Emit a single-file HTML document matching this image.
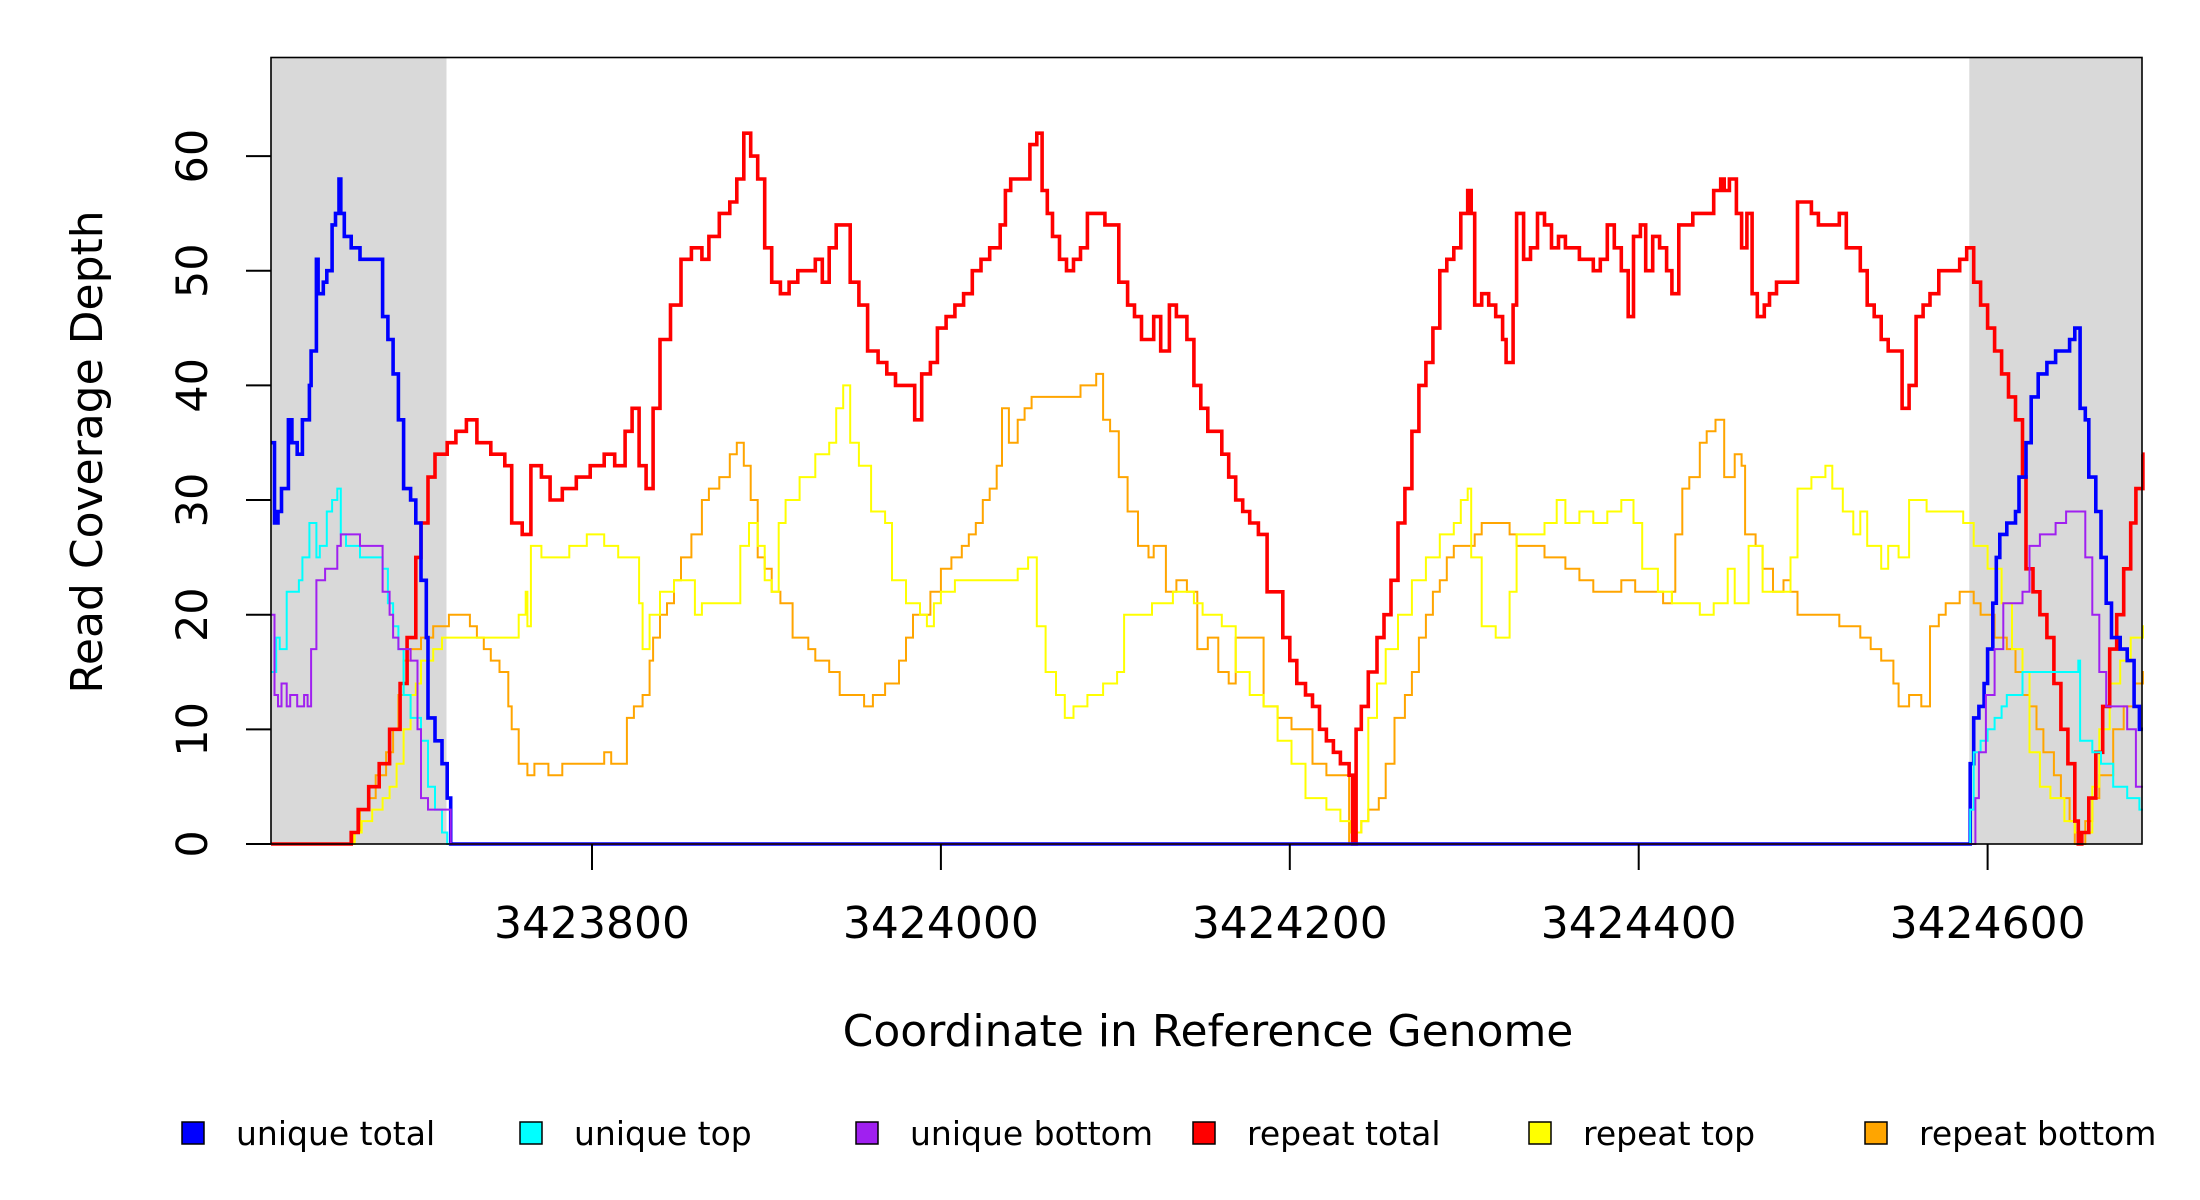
<!DOCTYPE html>
<html><head><meta charset="utf-8"><style>
html,body{margin:0;padding:0;background:#fff;}
svg{display:block;font-family:"DejaVu Sans","Liberation Sans",sans-serif;}
</style></head><body>
<svg id="chart" width="2200" height="1200" viewBox="0 0 2200 1200" xmlns="http://www.w3.org/2000/svg">
<g id="bg"></g>
<g id="series"></g>
<rect x="271" y="57.5" width="1871" height="786.5" fill="none" stroke="#000" stroke-width="1.6"/>
<g id="axes"></g>
<text transform="translate(102,452) rotate(-90)" text-anchor="middle" font-size="44">Read Coverage Depth</text>
<text x="1208" y="1046" text-anchor="middle" font-size="44">Coordinate in Reference Genome</text>
<g id="legend"></g>
</svg>
<script>
const regionStart = 3423616;
const xMin = 3423616, xMax = 3424688.5, yMax = 68.6;
const xTicks = [3423800, 3424000, 3424200, 3424400, 3424600];
const yTicks = [0, 10, 20, 30, 40, 50, 60];
const shaded = [[3423616, 3423716.6], [3424589.5, 3424688.5]];
const seriesNames = ["unique total","unique top","unique bottom","repeat total","repeat top","repeat bottom"];
const seriesColors = ["#0000ff","#00ffff","#a020f0","#ff0000","#ffff00","#ffa500"];

const redPos = [0,46,50,56,62,68,74,78,83,86,90,94,101,106,112,118,126,134,138,144,149,155,160,167,175,183,191,197,203,207,211,215,219,223,229,235,241,247,251,257,263,267,271,275,279,283,287,292,297,302,308,312,316,320,324,328,332,337,342,348,353,358,364,369,373,378,382,387,392,397,402,407,412,418,421,424,431,435,439,442,445,448,452,456,460,464,468,473,478,482,486,491,495,499,503,506,510,515,519,525,529,533,537,541,545,549,553,557,561,566,571,576,580,584,588,593,597,601,605,609,613,618,620,622,625,629,634,638,642,646,650,654,658,662,666,670,674,678,682,686,688,690,694,698,702,706,708,712,714,718,722,726,730,734,738,742,746,750,754,758,762,766,770,774,778,781,785,788,792,796,800,803,807,811,815,819,823,827,831,833,836,840,843,846,849,852,856,859,863,867,871,875,879,883,887,891,895,899,903,907,911,915,919,923,927,931,935,939,943,947,951,956,960,964,968,972,976,980,984,988,992,996,1000,1004,1006,1010,1014,1018,1022,1026,1030,1034,1036,1038,1042,1046,1050,1054,1058,1062,1066,1069,1073];
const redVal = [0,1,3,5,7,10,14,18,25,28,32,34,35,36,37,35,34,33,28,27,33,32,30,31,32,33,34,33,36,38,33,31,38,44,47,51,52,51,53,55,56,58,62,60,58,52,49,48,49,50,50,51,49,52,54,54,49,47,43,42,41,40,40,37,41,42,45,46,47,48,50,51,52,54,57,58,58,61,62,57,55,53,51,50,51,52,55,55,54,54,49,47,46,44,44,46,43,47,46,44,40,38,36,36,34,32,30,29,28,27,22,22,18,16,14,13,12,10,9,8,7,6,0,10,12,15,18,20,23,28,31,36,40,42,45,50,51,52,55,57,55,47,48,47,46,44,42,47,55,51,52,55,54,52,53,52,52,51,51,50,51,54,52,50,46,53,54,50,53,52,50,48,54,54,55,55,55,57,58,57,58,55,52,55,48,46,47,48,49,49,49,56,56,55,54,54,54,55,52,52,50,47,46,44,43,43,38,40,46,47,48,50,50,50,51,52,49,47,45,43,41,39,37,32,24,22,20,18,14,10,7,2,0,1,4,8,12,17,20,24,28,31,34,34];

const bluePos = [0,2,4,6,8,10,12,15,18,20,22,23,26,27,30,32,35,37,39,40,42,46,51,64,67,70,73,76,80,83,86,89,90,94,98,101,103,974,976,979,982,984,987,989,991,995,1000,1002,1006,1009,1013,1018,1023,1031,1034,1037,1040,1042,1046,1049,1052,1055,1060,1064,1068,1071,1073];
const blueVal = [35,28,29,31,31,37,35,34,37,37,40,43,51,48,49,50,54,55,58,55,53,52,51,46,44,41,37,31,30,28,23,18,11,9,7,4,0,7,11,12,14,17,21,25,27,28,29,32,35,39,41,42,43,44,45,38,37,32,29,25,21,18,17,16,12,10,10];

const cyanPos = [0,3,5,9,16,18,22,26,28,32,35,38,40,43,51,64,67,70,73,76,80,86,90,94,98,101,974,976,980,984,988,992,995,1004,1036,1037,1044,1049,1056,1064,1071,1073];
const cyanVal = [15,18,17,22,23,25,28,25,26,29,30,31,27,26,25,24,21,19,17,13,11,9,5,3,1,0,3,8,9,10,11,12,13,15,16,9,8,7,5,4,3,3];

const purplePos = [0,2,4,6,9,11,15,19,21,23,26,31,38,40,51,64,68,70,73,76,80,84,86,90,98,103,977,979,983,988,993,1004,1008,1014,1023,1029,1040,1044,1048,1052,1056,1064,1069,1073];
const purpleVal = [20,13,12,14,12,13,12,13,12,17,23,24,26,27,26,22,20,18,17,17,16,10,4,3,3,0,4,8,13,17,21,22,26,27,28,29,25,20,15,12,12,10,5,5];

const yellowPos = [0,48,52,58,64,68,72,76,80,83,86,93,98,142,146,147,149,155,163,171,181,191,199,211,213,217,223,231,243,247,263,269,274,279,283,287,291,295,303,312,320,324,328,332,337,344,352,356,364,372,376,380,384,392,408,420,428,434,439,444,450,455,460,468,477,485,489,505,517,525,529,534,539,545,553,561,569,577,585,593,605,613,619,622,625,629,634,639,646,654,662,670,678,682,686,688,694,702,710,714,722,730,737,742,750,758,766,774,781,786,795,803,811,819,827,835,839,847,855,865,871,875,883,891,895,901,907,911,915,923,927,933,939,949,960,970,976,984,992,998,1004,1008,1014,1020,1028,1034,1038,1044,1048,1054,1060,1066,1073];
const yellowVal = [0,1,2,3,4,5,7,10,13,14,16,17,18,20,22,19,26,25,25,26,27,26,25,21,17,20,22,23,20,21,21,26,28,26,23,22,28,30,32,34,35,38,40,35,33,29,28,23,21,20,19,21,22,23,23,23,24,25,19,15,13,11,12,13,14,15,20,21,22,22,21,20,20,19,15,13,12,9,7,4,3,2,1,1,2,11,14,17,20,23,25,27,28,30,31,25,19,18,22,27,27,28,30,28,29,28,29,30,28,24,22,21,21,20,21,24,21,26,22,22,25,31,32,33,31,29,27,29,26,24,26,25,30,29,29,28,26,24,21,17,15,8,5,4,2,1,1,5,10,14,16,18,19];

const orangePos = [0,47,51,56,60,66,70,73,76,80,86,93,98,102,110,114,118,122,126,131,136,138,142,147,151,159,167,179,187,191,195,201,204,208,213,217,219,223,227,231,235,241,247,251,257,263,267,271,275,279,283,287,292,299,308,312,320,326,332,340,345,352,360,364,368,372,378,384,390,396,400,404,408,412,416,419,423,428,432,436,442,448,456,464,473,477,481,486,491,497,503,506,513,519,525,531,537,543,549,553,561,569,577,585,597,605,613,618,621,625,629,635,639,644,650,654,658,662,666,670,674,678,682,686,690,694,698,706,710,714,722,726,730,737,742,750,758,766,774,782,790,798,803,805,809,813,819,823,828,833,839,843,845,851,855,861,867,871,875,883,891,899,907,911,917,923,930,933,939,946,951,956,960,968,972,976,980,988,995,1000,1004,1008,1012,1016,1022,1026,1031,1034,1040,1044,1048,1056,1062,1068,1073];
const orangeVal = [0,1,3,4,6,8,10,13,16,17,18,19,19,20,20,19,18,17,16,15,12,10,7,6,7,6,7,7,7,8,7,7,11,12,13,16,18,20,21,23,25,27,30,31,32,34,35,33,30,25,24,22,21,18,17,16,15,13,13,12,13,14,16,18,20,20,22,24,25,26,27,28,30,31,33,38,35,37,38,39,39,39,39,40,41,37,36,32,29,26,25,26,22,23,22,17,18,15,14,18,18,12,11,10,7,6,6,0,1,2,3,4,7,11,13,15,18,20,22,23,25,26,26,26,27,28,28,28,27,26,26,26,25,25,24,23,22,22,23,22,22,21,22,27,31,32,35,36,37,32,34,33,27,26,24,22,23,22,20,20,20,19,19,18,17,16,14,12,13,12,19,20,21,22,22,21,20,18,17,15,13,12,10,8,6,4,2,0,2,4,6,10,12,14,15];

const NS = "http://www.w3.org/2000/svg";
const L = 271, R = 2142, T = 57.5, B = 844;
function xs(v){ return L + (v - xMin) / (xMax - xMin) * (R - L); }
function ys(v){ return B - v / yMax * (B - T); }
function mk(tag, attrs, parent){ const e = document.createElementNS(NS, tag); for (const k in attrs) e.setAttribute(k, attrs[k]); parent.appendChild(e); return e; }

const bg = document.getElementById('bg');
shaded.forEach(function(s){
  const r = mk('rect', {x: xs(s[0]), y: T, width: xs(s[1]) - xs(s[0]), height: B - T, fill: '#d9d9d9'}, bg);
  
  
});

const seriesG = document.getElementById('series');
function stepPath(pos, val){
  const n = Math.min(pos.length, val.length);
  let d = '';
  for (let i = 0; i < n; i++){
    const x = xs(regionStart + pos[i]), y = ys(val[i]);
    if (i === 0) d += 'M' + x.toFixed(1) + ',' + y.toFixed(1);
    else d += 'H' + x.toFixed(1) + 'V' + y.toFixed(1);
  }
  d += 'H' + xs(xMax).toFixed(1);
  return d;
}
function drawSeries(pos, val, color, w, name){
  const p = mk('path', {d: stepPath(pos, val), fill: 'none', stroke: color, 'stroke-width': w, 'stroke-linejoin': 'miter'}, seriesG);
  
  
}
drawSeries(orangePos, orangeVal, seriesColors[5], 2, 'repeat-bottom-line');
drawSeries(yellowPos, yellowVal, seriesColors[4], 2, 'repeat-top-line');
drawSeries(redPos, redVal, seriesColors[3], 3.6, 'repeat-total-line');
drawSeries(bluePos, blueVal, seriesColors[0], 3.6, 'unique-total-line');
drawSeries(cyanPos, cyanVal, seriesColors[1], 2, 'unique-top-line');
drawSeries(purplePos, purpleVal, seriesColors[2], 2, 'unique-bottom-line');

const axes = document.getElementById('axes');
yTicks.forEach(function(t){
  const y = ys(t);
  const ln = mk('line', {x1: 246, x2: L, y1: y, y2: y, stroke: '#000', 'stroke-width': 2}, axes);
  
  
  const tx = mk('text', {transform: 'translate(207,' + y + ') rotate(-90)', 'text-anchor': 'middle', 'font-size': 43}, axes);
  tx.textContent = t;
  
  
});
xTicks.forEach(function(t){
  const x = xs(t);
  const ln = mk('line', {x1: x, x2: x, y1: B, y2: 870, stroke: '#000', 'stroke-width': 2}, axes);
  
  
  const tx = mk('text', {x: x, y: 938, 'text-anchor': 'middle', 'font-size': 44}, axes);
  tx.textContent = t;
  
  
});

const lg = document.getElementById('legend');
const legendX = [193, 531, 867, 1204, 1540, 1876];
seriesNames.forEach(function(n, i){
  const g = mk('g', {}, lg);
  
  
  mk('rect', {x: legendX[i] - 11, y: 1122, width: 22, height: 22, fill: seriesColors[i], stroke: '#000', 'stroke-width': 1.5}, g);
  const tx = mk('text', {x: legendX[i] + 43, y: 1145, 'font-size': 33}, g);
  tx.textContent = n;
});
</script>
</body></html>
